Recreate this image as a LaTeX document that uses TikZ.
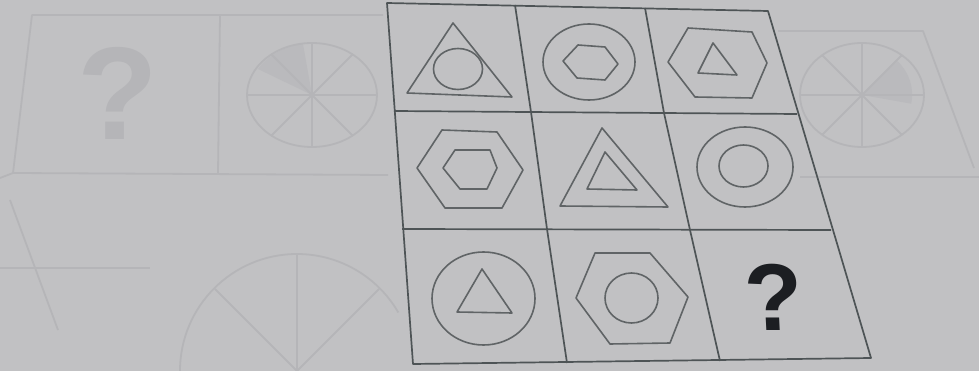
\documentclass[tikz,border=0pt]{standalone}
\usepackage{fontspec}
\newfontfamily\qfont{Liberation Sans}
\definecolor{paper}{RGB}{193,193,195}
\definecolor{ink}{RGB}{78,84,86}
\definecolor{shapeink}{RGB}{96,100,102}
\definecolor{ghost}{RGB}{181,181,184}
\definecolor{ghostfill}{RGB}{186,186,189}
\definecolor{qink}{RGB}{28,30,34}
\tikzset{
  gridline/.style={draw=ink, line width=1.7pt, line join=round},
  fig/.style={draw=shapeink, line width=1.6pt, line join=round},
  ghostline/.style={draw=ghost, line width=1.8pt, line join=round},
  qmark/.style={inner sep=0pt, text=qink, font=\qfont\bfseries\fontsize{95}{95}\selectfont},
  ghostq/.style={inner sep=0pt, text=ghost, font=\qfont\bfseries\fontsize{132}{132}\selectfont}
}
\begin{document}
\begin{tikzpicture}[x=1pt,y=-1pt]
\useasboundingbox (0,0) rectangle (979,371);
\fill[paper] (0,0) rectangle (979,371);

% ---- faint show-through from the other side of the page ----
\draw[ghostline] (383,15) -- (32,15) -- (13,173) -- (388,175);
\draw[ghostline] (220,15) -- (218,173);
\draw[ghostline] (0,178) -- (13,173);
\draw[ghostline] (778,31) -- (923,31) -- (974,168);
\draw[ghostline] (800,177) -- (979,177);
\node[ghostq] (gq) at (118,93) {?};
\fill[ghostfill] (312,95) -- ++(100:52pt) arc[start angle=100, end angle=150, x radius=65pt, y radius=52pt] -- cycle;
\draw[ghostline] (312,95) ellipse [x radius=65pt, y radius=52pt];
\foreach \a in {0,45,90,135,180,225,270,315}
  \draw[ghostline] (312,95) -- ++(\a:{65pt*52pt/sqrt((52pt*cos(\a))^2+(65pt*sin(\a))^2)});
\fill[ghostfill] (862,95) -- ++(-10:50pt) arc[start angle=-10, end angle=40, x radius=62pt, y radius=52pt] -- cycle;
\draw[ghostline] (862,95) ellipse [x radius=62pt, y radius=52pt];
\foreach \a in {0,45,90,135,180,225,270,315}
  \draw[ghostline] (862,95) -- ++(\a:{62pt*52pt/sqrt((52pt*cos(\a))^2+(62pt*sin(\a))^2)});
\draw[ghostline] (180,371) arc[start angle=180, end angle=30, radius=117pt];
\draw[ghostline] (297,371) -- ++(90:116pt);
\draw[ghostline] (297,371) -- ++(135:116pt);
\draw[ghostline] (297,371) -- ++(45:116pt);
\draw[ghostline] (10,200) -- (58,330);
\draw[ghostline] (0,268) -- (150,268);

% ---- grid ----
\coordinate (a0) at (387,3);   \coordinate (a1) at (515,5);
\coordinate (a2) at (645,8);   \coordinate (a3) at (768,11);
\coordinate (b0) at (394,111); \coordinate (b1) at (531,112);
\coordinate (b2) at (664,113); \coordinate (b3) at (797,114);
\coordinate (c0) at (402,229); \coordinate (c1) at (547,229);
\coordinate (c2) at (690,230); \coordinate (c3) at (831,230);
\coordinate (d0) at (413,364); \coordinate (d1) at (567,363);
\coordinate (d2) at (720,361); \coordinate (d3) at (871,358);
\draw[gridline] (a0) -- (a3) -- (d3) -- (d0) -- cycle;
\draw[gridline] (b0) -- (b3);
\draw[gridline] (c0) -- (c3);
\draw[gridline] (a1) -- (b1) -- (c1) -- (d1);
\draw[gridline] (a2) -- (b2) -- (c2) -- (d2);

% ---- row 1 ----
\draw[fig] (453,23) -- (512,97) -- (407,93) -- cycle;
\draw[fig] (458,69) ellipse [x radius=24.5pt, y radius=20.5pt];
\draw[fig] (589,62) ellipse [x radius=46pt, y radius=38pt];
\draw[fig] (563,61) -- (578,45) -- (605,47) -- (618,64) -- (605,80) -- (577,78) -- cycle;
\draw[fig] (668,62) -- (688,28) -- (752,32) -- (767,63) -- (752,98) -- (695,97) -- cycle;
\draw[fig] (713,43) -- (737,75) -- (698,73) -- cycle;

% ---- row 2 ----
\draw[fig] (417,168) -- (442,130) -- (497,132) -- (523,170) -- (502,208) -- (445,208) -- cycle;
\draw[fig] (443,168) -- (455,150) -- (490,150) -- (497,168) -- (487,189) -- (460,189) -- cycle;
\draw[fig] (602,128) -- (668,207) -- (560,206) -- cycle;
\draw[fig] (605,152) -- (637,190) -- (587,189) -- cycle;
\draw[fig] (745,167) ellipse [x radius=48pt, y radius=40pt];
\draw[fig] (743.5,166) ellipse [x radius=24.5pt, y radius=21pt];

% ---- row 3 ----
\draw[fig] (483.5,298.5) ellipse [x radius=51.5pt, y radius=46.5pt];
\draw[fig] (482,269) -- (512,313) -- (457,312) -- cycle;
\draw[fig] (576,298) -- (595,253) -- (650,253) -- (688,297) -- (670,343) -- (610,344) -- cycle;
\draw[fig] (631.5,298) ellipse [x radius=26.5pt, y radius=25pt];
\node[qmark, xslant=-0.05] (q) at (774,297) {?};
\end{tikzpicture}
\end{document}
